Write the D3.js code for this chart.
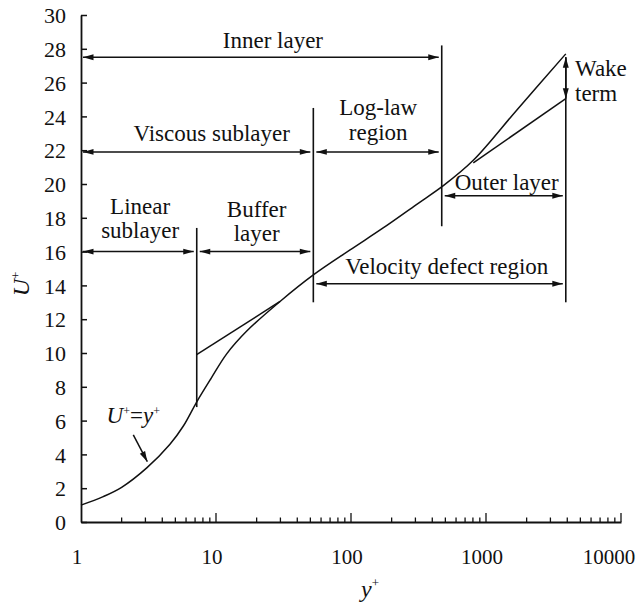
<!DOCTYPE html>
<html><head><meta charset="utf-8">
<script src="https://cdn.jsdelivr.net/npm/d3@7"></script>
<style>body{margin:0;background:#fff;} svg{display:block;}</style>
</head><body><svg id="chart" width="642" height="603"></svg>
<script>
// ---------- data ----------
const xTickValues = [1, 10, 100, 1000, 10000];
const xTickLabels = ["1", "10", "100", "1000", "10000"];
const yTickValues = [0, 2, 4, 6, 8, 10, 12, 14, 16, 18, 20, 22, 24, 26, 28, 30];
const yTickLabels = ["0","2","4","6","8","10","12","14","16","18","20","22","24","26","28","30"];

// velocity profile (main curve, ends with the wake branch)
const profileYPlus = [1, 1.46, 2.0, 3.07, 4.56, 5.73, 7.19, 9.2, 12.0, 16.9, 29.8, 52.6, 98.4, 173, 307, 483, 805, 1700, 3900];
const profileUPlus = [1.0, 1.5, 2.05, 3.2, 4.6, 5.68, 7.1, 8.5, 9.95, 11.3, 13.05, 14.62, 16.1, 17.4, 18.8, 19.9, 21.4, 24.4, 27.7];

// log-law line pieces
const logLawInnerYPlus = [7.19, 29.8];
const logLawInnerUPlus = [9.9, 13.05];
const logLawOuterYPlus = [805, 3900];
const logLawOuterUPlus = [21.25, 25.05];

// region boundaries (vertical lines)
const boundaryYPlus = [7.2, 52.6, 470, 3900];
const boundaryULow  = [6.8, 13.0, 17.5, 13.0];
const boundaryUHigh = [17.4, 24.5, 28.2, 27.5];

// regions (double arrows)
const regionNames = ["Inner layer", "Viscous sublayer", "Log-law region", "Linear sublayer", "Buffer layer", "Velocity defect region", "Outer layer"];
const regionFrom  = [1, 1, 52.6, 1, 7.2, 52.6, 470];
const regionTo    = [470, 52.6, 470, 7.2, 52.6, 3900, 3900];
const regionU     = [27.5, 21.9, 21.9, 16.0, 16.0, 14.1, 19.3];

// wake term arrow
const wakeYPlus = 3900;
const wakeUFrom = 25.05;
const wakeUTo = 27.5;

// ---------- layout ----------
const W = 642, H = 603;
const x = d3.scaleLog().domain([1, 10000]).range([81, 621]);
const y = d3.scaleLinear().domain([0, 30]).range([522, 15]);
const FONT = "'Liberation Serif','Times New Roman',serif";
const INK = "#111";

const svg = d3.select("#chart");
svg.append("rect").attr("width", W).attr("height", H).attr("fill", "#fff");

const defs = svg.append("defs");
defs.append("marker").attr("id", "ah")
  .attr("viewBox", "0 0 12 8").attr("refX", 12).attr("refY", 4)
  .attr("markerUnits", "userSpaceOnUse").attr("markerWidth", 12).attr("markerHeight", 7)
  .attr("orient", "auto-start-reverse")
  .append("path").attr("d", "M0,0.6 L12,4 L0,7.4 Z").attr("fill", INK);

// axes
const xAxis = d3.axisBottom(x).tickValues([]).tickSizeOuter(0);
const yAxis = d3.axisLeft(y).tickValues(yTickValues).tickSize(-6).tickSizeOuter(0).tickFormat(() => "");
const gy = svg.append("g").attr("transform", `translate(${x(1)},0)`).call(yAxis);
gy.select(".domain").attr("stroke", INK).attr("stroke-width", 1.8);
gy.selectAll(".tick line").attr("stroke", INK).attr("stroke-width", 1.5);
gy.selectAll(".tick").append("text")
  .attr("x", -15).attr("dy", "0.35em").attr("fill", INK)
  .attr("text-anchor", "end").attr("font-family", FONT).attr("font-size", 22)
  .text((d, i) => yTickLabels[i]);

const gx = svg.append("g").attr("transform", `translate(0,${y(0)})`).call(xAxis);
gx.select(".domain").attr("stroke", INK).attr("stroke-width", 1.8);
const minor = [];
for (let dec = 1; dec < 10000; dec *= 10) for (let k = 2; k <= 9; k++) minor.push(dec * k);
gx.selectAll("line.minor").data(minor).enter().append("line")
  .attr("x1", d => x(d)).attr("x2", d => x(d)).attr("y1", 0).attr("y2", -4.5)
  .attr("stroke", INK).attr("stroke-width", 1.3);
gx.selectAll("line.major").data(xTickValues.slice(1)).enter().append("line")
  .attr("x1", d => x(d)).attr("x2", d => x(d)).attr("y1", 0).attr("y2", -9)
  .attr("stroke", INK).attr("stroke-width", 1.3);
gx.selectAll("text.xl").data(xTickValues).enter().append("text")
  .attr("x", d => Math.min(x(d) - 4, 609)).attr("y", 42).attr("fill", INK)
  .attr("text-anchor", "middle").attr("font-family", FONT).attr("font-size", 21)
  .text((d, i) => xTickLabels[i]);

// axis titles
const yt = svg.append("text").attr("transform", `translate(29,284) rotate(-90)`)
  .attr("text-anchor", "middle").attr("font-family", FONT).attr("font-size", 24).attr("fill", INK);
yt.append("tspan").attr("font-style", "italic").text("U");
yt.append("tspan").attr("font-size", 13).attr("dy", -9).text("+");
const xt = svg.append("text").attr("x", 370).attr("y", 597)
  .attr("text-anchor", "middle").attr("font-family", FONT).attr("font-size", 24).attr("fill", INK);
xt.append("tspan").attr("font-style", "italic").text("y");
xt.append("tspan").attr("font-size", 13).attr("dy", -10).text("+");

// curves
const line = d3.line().x(d => x(d[0])).y(d => y(d[1])).curve(d3.curveCatmullRom.alpha(0.5));
const profile = profileYPlus.map((v, i) => [v, profileUPlus[i]]);
svg.append("path").attr("d", line(profile)).attr("fill", "none").attr("stroke", INK).attr("stroke-width", 1.5);
const straight = d3.line().x(d => x(d[0])).y(d => y(d[1]));
svg.append("path").attr("d", straight(logLawInnerYPlus.map((v, i) => [v, logLawInnerUPlus[i]])))
  .attr("fill", "none").attr("stroke", INK).attr("stroke-width", 1.5);
svg.append("path").attr("d", straight(logLawOuterYPlus.map((v, i) => [v, logLawOuterUPlus[i]])))
  .attr("fill", "none").attr("stroke", INK).attr("stroke-width", 1.5);

// boundaries
boundaryYPlus.forEach((b, i) => {
  svg.append("line").attr("x1", x(b)).attr("x2", x(b))
    .attr("y1", y(boundaryULow[i])).attr("y2", y(boundaryUHigh[i]))
    .attr("stroke", INK).attr("stroke-width", 1.6);
});

// double arrows
const gap = 3;
regionNames.forEach((n, i) => {
  const x1 = regionFrom[i] === 1 ? x(1) + 2 : x(regionFrom[i]) + gap;
  const x2 = x(regionTo[i]) - gap;
  svg.append("line").attr("x1", x1).attr("x2", x2).attr("y1", y(regionU[i])).attr("y2", y(regionU[i]))
    .attr("stroke", INK).attr("stroke-width", 1.5)
    .attr("marker-start", "url(#ah)").attr("marker-end", "url(#ah)");
});
svg.append("line").attr("x1", x(wakeYPlus)).attr("x2", x(wakeYPlus))
  .attr("y1", y(wakeUFrom)).attr("y2", y(wakeUTo))
  .attr("stroke", INK).attr("stroke-width", 1.6)
  .attr("marker-start", "url(#ah)").attr("marker-end", "url(#ah)");

// labels: [text, yPlus, U, anchor]
const labels = [
  ["Inner layer", 26.4, 28.48, "middle"],
  ["Viscous sublayer", 9.29, 23.0, "middle"],
  ["Log-law", 159, 24.52, "middle"],
  ["region", 159, 23.06, "middle"],
  ["Linear", 2.74, 18.7, "middle"],
  ["sublayer", 2.74, 17.28, "middle"],
  ["Buffer", 20.0, 18.5, "middle"],
  ["layer", 20.0, 17.08, "middle"],
  ["Velocity defect region", 512, 15.11, "middle"],
  ["Outer layer", 1423, 20.1, "middle"],
  ["Wake", 4565, 26.85, "start"],
  ["term", 4565, 25.37, "start"]
];
svg.selectAll("text.lab").data(labels).enter().append("text")
  .attr("x", d => x(d[1])).attr("y", d => y(d[2])).attr("dy", "0.33em")
  .attr("text-anchor", d => d[3]).attr("font-family", FONT).attr("font-size", 23).attr("fill", INK)
  .text(d => d[0]);

// U+=y+ annotation
const ann = svg.append("text").attr("x", x(2.44)).attr("y", y(6.33)).attr("dy", "0.33em")
  .attr("text-anchor", "middle").attr("font-family", FONT).attr("font-size", 23).attr("fill", INK);
ann.append("tspan").attr("font-style", "italic").text("U");
ann.append("tspan").attr("font-size", 12).attr("dy", -8).text("+");
ann.append("tspan").attr("dy", 8).text("=");
ann.append("tspan").attr("font-style", "italic").text("y");
ann.append("tspan").attr("font-size", 12).attr("dy", -8).text("+");
svg.append("line").attr("x1", x(2.44)).attr("y1", y(5.15)).attr("x2", x(3.10)).attr("y2", y(3.57))
  .attr("stroke", INK).attr("stroke-width", 1.5).attr("marker-end", "url(#ah)");
</script></body></html>
